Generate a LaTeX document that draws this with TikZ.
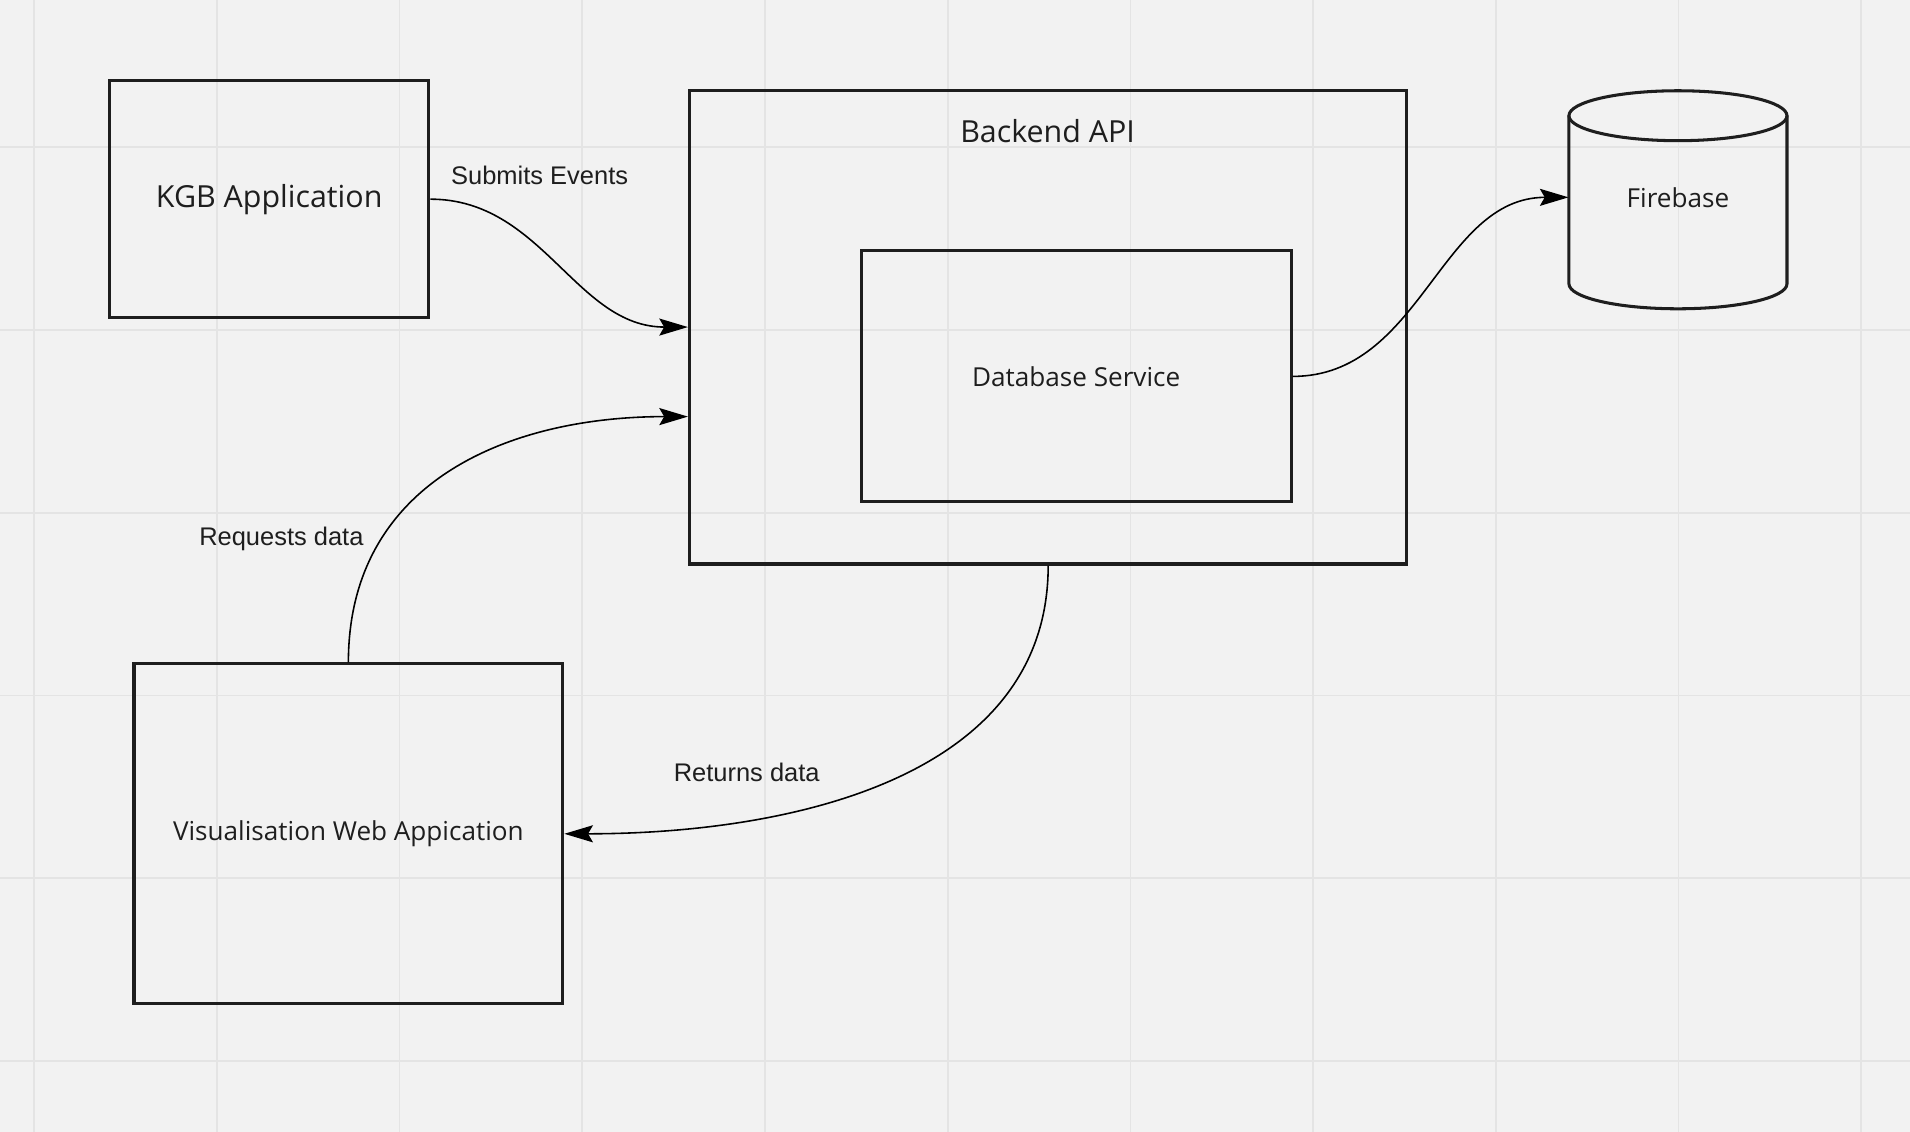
\documentclass[tikz,border=0pt]{standalone}
\usepackage{fontspec}
\setmainfont{Open Sans}
\newfontfamily\labelfont{Liberation Sans}
\usetikzlibrary{arrows.meta}
\definecolor{canvas}{HTML}{F2F2F2}
\definecolor{gridline}{HTML}{E4E4E4}
\definecolor{ink}{HTML}{1E1E1E}

\begin{document}
\begin{tikzpicture}[x=0.2mm,y=0.2mm]

	\tikzstyle box lines=[draw=ink, text=ink, line width=0.5mm, inner sep=0pt];
	\tikzstyle flow lines=[black, line width=0.26mm, -{Stealth[length=4.7mm,width=2.8mm,inset=0.8mm]}];
	\tikzstyle flow label=[text=ink, font=\labelfont\fontsize{11.9pt}{14pt}\selectfont];
	\tikzstyle big text=[font=\fontsize{14.2pt}{17pt}\selectfont];
	\tikzstyle small text=[font=\fontsize{12.2pt}{15pt}\selectfont];

	\fill[canvas] (0,0) rectangle (1568,-929);
	\useasboundingbox (0,0) rectangle (1568,-929);
		\foreach \x in {28,178,...,1528}
			\draw[gridline, line width=0.3mm] (\x,0) -- (\x,-929);
		\foreach \y in {121,271,...,871}
			\draw[gridline, line width=0.3mm] (0,-\y) -- (1568,-\y);

	\node[box lines, big text, minimum width=52.4mm, minimum height=39mm] (kgb) at (221,-163.5) {KGB Application};

	\node[box lines, minimum width=117.8mm, minimum height=77.8mm] (api) at (860.5,-268.5) {};
	\node[big text, text=ink] (apititle) at (860,-108) {Backend API};
	\node[box lines, small text, minimum width=70.6mm, minimum height=41.2mm] (dbs) at (883.5,-309) {Database Service};

	\node[box lines, small text, minimum width=70.4mm, minimum height=55.8mm] (vis) at (286,-684.5) {Visualisation Web Appication};

	% firebase cylinder
	\node[small text, text=ink, minimum width=35.8mm, minimum height=35.6mm] (fb) at (1377.5,-162) {Firebase};
		\draw[box lines] (1288,-95) -- (1288,-233) arc[start angle=180, end angle=360, x radius=17.9mm, y radius=4.1mm] -- (1467,-95);
		\draw[box lines] (1377.5,-95) ellipse[x radius=17.9mm, y radius=4.1mm];

	\coordinate (apiin) at ([yshift=-14.7mm]api.west);

	\draw[flow lines] (kgb.east) to[out=0, in=180] (api.west);
	\node[flow label] (submits) at (443,-144) {Submits Events};

	\draw[flow lines] (vis.north) to[out=90, in=180, looseness=1.1] (apiin);
	\node[flow label] (requests) at (231,-442) {Requests data};

	\draw[flow lines] (api.south) to[out=-90, in=0] (vis.east);
	\node[flow label] (returns) at (613,-634) {Returns data};

	\draw[flow lines] (dbs.east) to[out=0, in=180] (fb.west);

\end{tikzpicture}
\end{document}
